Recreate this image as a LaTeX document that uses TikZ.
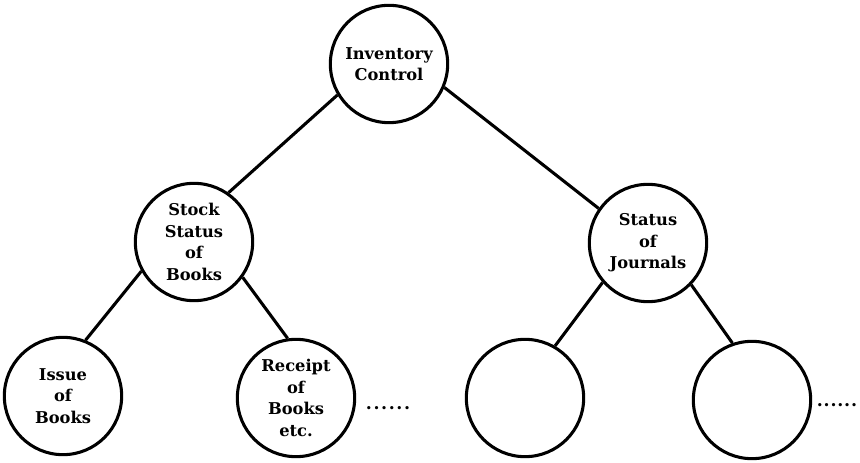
\documentclass[tikz,border=0pt]{standalone}
\usepackage{fontspec}
\newfontfamily\slabfont{DejaVu Serif}[BoldFont={DejaVu Serif Bold}]
\begin{document}
\begin{tikzpicture}[x=0.75pt,y=-0.75pt,
  topic/.style={circle,draw,line width=2.3pt,inner sep=0pt,minimum size=88pt,
    align=center,font=\slabfont\bfseries\fontsize{12.2}{16.2}\selectfont},
  link/.style={line width=2.3pt},
  more/.style={inner sep=0pt,font=\slabfont\bfseries\fontsize{13}{16}\selectfont}]
\useasboundingbox (0,0) rectangle (860,463);

% level 0
\node[topic] (inv) at (389,64) {Inventory\\Control};
% level 1
\node[topic] (stock) at (194,242) {Stock\\Status\\of\\Books};
\node[topic] (jour) at (648,243) {Status\\of\\Journals};
% level 2
\node[topic] (issue) at (63,396) {Issue\\of\\Books};
\node[topic] (receipt) at (296,398) {Receipt\\of\\Books\\etc.};
\node[topic] (blankA) at (525,398) {};
\node[topic] (blankB) at (752,400) {};

% continuation marks
\node[more,anchor=base] (rdots) at (388,409) {.\kern1.2pt.\kern1.2pt.\kern1.2pt.\kern1.2pt.\kern1.2pt.};
\node[more,anchor=base] (bdots) at (837,406) {.\kern0.6pt.\kern0.6pt.\kern0.6pt.\kern0.6pt.\kern0.6pt.};

% tree edges
\draw[link] (inv.211) -- (stock.55);
\draw[link] (inv.337) -- (jour.145);
\draw[link] (stock.209) -- (issue.68);
\draw[link] (stock.324) -- (receipt.98);
\draw[link] (jour.221) -- (blankA.60);
\draw[link] (jour.316) -- (blankB.109);
\end{tikzpicture}
\end{document}
